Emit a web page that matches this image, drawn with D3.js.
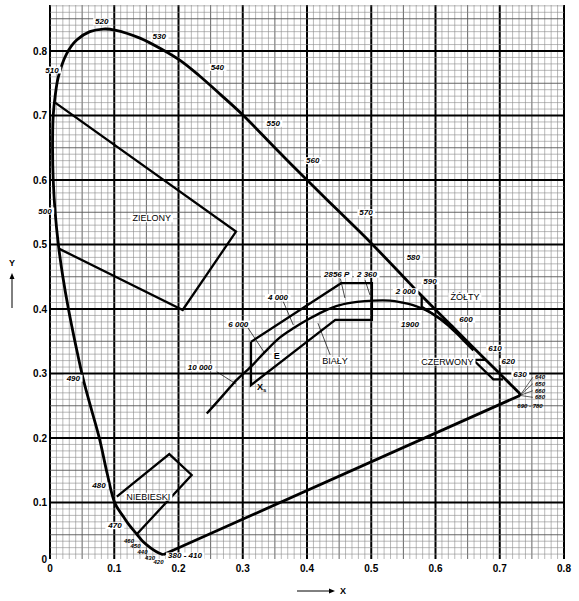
<!DOCTYPE html>
<html><head><meta charset="utf-8">
<script src="https://cdn.jsdelivr.net/npm/d3@7"></script>
<style>body{margin:0;background:#fff}svg{display:block}</style>
</head><body>
<svg id="c" width="579" height="601"></svg>
<script>
// ---------- data ----------
const xTickValues = [0,0.1,0.2,0.3,0.4,0.5,0.6,0.7,0.8];
const xTickLabels = ["0","0.1","0.2","0.3","0.4","0.5","0.6","0.7","0.8"];
const yTickValues = [0,0.1,0.2,0.3,0.4,0.5,0.6,0.7,0.8];
const yTickLabels = ["0","0.1","0.2","0.3","0.4","0.5","0.6","0.7","0.8"];

// spectral locus, from the violet end up and round to the red end
const locusX = [0.176,0.165,0.156,0.145,0.135,0.124,0.115,0.101,0.089,0.077,0.064,0.052,0.040,0.0285,0.020,0.013,0.008,0.005,0.004,0.005,0.008,0.013,0.026,0.0415,0.062,0.083,0.101,0.140,0.176,0.203,0.232,0.266,0.301,0.35,0.40,0.45,0.50,0.55,0.575,0.60,0.627,0.658,0.6915,0.708,0.719,0.726,0.730,0.7315];
const locusY = [0.019,0.024,0.030,0.039,0.051,0.064,0.077,0.099,0.145,0.199,0.246,0.290,0.344,0.401,0.450,0.500,0.550,0.600,0.650,0.700,0.730,0.760,0.796,0.817,0.830,0.834,0.8325,0.820,0.8015,0.785,0.762,0.732,0.700,0.650,0.600,0.551,0.502,0.450,0.424,0.399,0.372,0.341,0.308,0.292,0.281,0.274,0.270,0.266];

// Planckian locus
const planckX = [0.244,0.262,0.2802,0.2905,0.3128,0.335,0.358,0.38,0.40,0.425,0.451,0.478,0.503,0.529,0.548,0.565,0.585,0.602,0.618,0.633,0.646,0.659];
const planckY = [0.238,0.258,0.2786,0.290,0.3105,0.334,0.356,0.371,0.383,0.396,0.406,0.411,0.413,0.413,0.410,0.406,0.398,0.388,0.376,0.362,0.349,0.336];

// signal-colour regions
const greenX = [0.008,0.2895,0.2065,0.013];
const greenY = [0.720,0.520,0.3985,0.494];
const blueX = [0.104,0.1857,0.2205,0.135];
const blueY = [0.109,0.175,0.1426,0.0507];
const whiteX = [0.3128,0.453,0.501,0.501,0.444,0.3128,0.3128];
const whiteY = [0.349,0.440,0.440,0.383,0.383,0.282,0.349];
const yellowX = [0.5785,0.5785,0.627];
const yellowY = [0.4215,0.4036,0.373];
const redX = [0.678,0.659,0.690,0.705];
const redY = [0.321,0.321,0.291,0.291];

// wavelength labels (nm)
const wlText = ["520","530","540","550","560","570","580","590","600","610","620","630","510","500","490","480","470","380 - 410"];
const wlX = [0.0805,0.1701,0.2604,0.3475,0.4089,0.4918,0.5655,0.5914,0.6475,0.6926,0.7133,0.7315,0.0031,-0.0078,0.0363,0.0763,0.1012,0.2101];
const wlY = [0.8454,0.8222,0.7747,0.6879,0.6299,0.5493,0.4802,0.4434,0.3840,0.3391,0.3183,0.2992,0.7705,0.5519,0.2926,0.1256,0.0640,0.0171];
// densely packed wavelength labels
const wlSmallText = ["640","650","660","680","690 - 780","460","450","440","430","420"];
const wlSmallX = [0.7626,0.7626,0.7626,0.7626,0.7471,0.1230,0.1331,0.1440,0.1556,0.1689];
const wlSmallY = [0.2941,0.2842,0.2733,0.2631,0.2496,0.0403,0.0318,0.0233,0.0147,0.0078];

// colour-temperature labels (K)
const ctText = ["10 000","6 000","4 000","2856  P","2 360","2 000","1900"];
const ctX = [0.2335,0.2931,0.3549,0.4462,0.4934,0.5538,0.5603];
const ctY = [0.3096,0.3767,0.4178,0.4538,0.4538,0.4268,0.3767];

// thin leader / isotemperature lines
const leaderX1 = [0.2594,0.3082,0.3631,0.452,0.4903,0.417];
const leaderY1 = [0.3028,0.3705,0.4113,0.447,0.445,0.378];
const leaderX2 = [0.2895,0.334,0.3787,0.459,0.498,0.436];
const leaderY2 = [0.2837,0.332,0.3752,0.417,0.4217,0.329];

// region names
const regionText = ["ZIELONY","NIEBIESKI","BIAŁY","ŻÓŁTY","CZERWONY"];
const regionX = [0.1583,0.1530,0.4436,0.6459,0.6184];
const regionY = [0.5406,0.1090,0.3194,0.4191,0.3183];

// ---------- drawing ----------
const svg = d3.select("#c");
const x = d3.scaleLinear().domain([0,0.8]).range([50,564]);
const y = d3.scaleLinear().domain([0,0.8]).range([567,51]);
const gridBottom = y.invert(559), gridTop = y.invert(5);

const grid = svg.append("g");
for (let i = 0; i <= 80; i++) {
  const v = i/100;
  const major = i % 10 === 0, mid = i % 5 === 0;
  grid.append("line").attr("x1", x(v)).attr("x2", x(v)).attr("y1", y(gridBottom)).attr("y2", y(gridTop))
    .attr("stroke", major ? "#000" : mid ? "#555" : "#8a8a8a")
    .attr("stroke-width", major ? 2 : mid ? 0.9 : 0.6);
}
for (let i = 2; i <= 87; i++) {
  const v = i/100;
  const major = i % 10 === 0, mid = i % 5 === 0;
  grid.append("line").attr("y1", y(v)).attr("y2", y(v)).attr("x1", x(0)).attr("x2", x(0.8))
    .attr("stroke", major ? "#000" : mid ? "#555" : "#8a8a8a")
    .attr("stroke-width", major ? 2 : mid ? 0.9 : 0.6);
}

const zip = (xs, ys) => xs.map((v,i) => [v, ys[i]]);
const lineC = d3.line().x(d => x(d[0])).y(d => y(d[1])).curve(d3.curveCatmullRom.alpha(0.5));
const lineL = d3.line().x(d => x(d[0])).y(d => y(d[1]));

const marks = svg.append("g").attr("fill","none").attr("stroke","#000").attr("stroke-linejoin","miter");
marks.append("path").attr("d", lineC(zip(locusX, locusY))).attr("stroke-width", 2.8);
const n = locusX.length-1;
marks.append("path").attr("d", lineL([[locusX[0],locusY[0]],[locusX[n],locusY[n]]])).attr("stroke-width", 2.8);
marks.append("path").attr("d", lineC(zip(planckX, planckY))).attr("stroke-width", 2.4);
[[greenX,greenY],[blueX,blueY],[whiteX,whiteY],[yellowX,yellowY],[redX,redY]].forEach(([a,b]) => {
  marks.append("path").attr("d", lineL(zip(a,b))).attr("stroke-width", 2.3);
});
leaderX1.forEach((v,i) => {
  marks.append("line").attr("x1", x(v)).attr("y1", y(leaderY1[i])).attr("x2", x(leaderX2[i])).attr("y2", y(leaderY2[i]))
    .attr("stroke-width", 0.7);
});
wlSmallY.slice(0,4).forEach(v => {
  marks.append("line").attr("x1", x(0.7315)).attr("y1", y(0.266)).attr("x2", x(0.7515)).attr("y2", y(v)).attr("stroke-width",0.6);
});

const labels = svg.append("g");
function label(t, px, py, opts) {
  const g = labels.append("g");
  const txt = g.append("text").attr("x", px).attr("y", py).text(t)
    .attr("text-anchor", opts.anchor || "middle").attr("dominant-baseline","central")
    .attr("font-family","'Liberation Sans', Arial, sans-serif")
    .attr("font-size", opts.size).attr("font-weight", opts.weight || "normal")
    .attr("font-style", opts.style || "normal").attr("fill","#000");
  if (opts.bg) {
    const bb = txt.node().getBBox();
    g.insert("rect","text").attr("x", bb.x-2).attr("y", bb.y+1).attr("width", bb.width+4).attr("height", bb.height-2).attr("fill","#fff");
  }
  return txt;
}
wlText.forEach((t,i) => label(t, x(wlX[i]), y(wlY[i]), {size: 8, weight: "bold", style: "italic", bg: true}));
wlSmallText.forEach((t,i) => label(t, x(wlSmallX[i]), y(wlSmallY[i]), {size: 6, weight: "bold", style: "italic"}));
ctText.forEach((t,i) => label(t, x(ctX[i]), y(ctY[i]), {size: 8, weight: "bold", style: "italic", bg: true}));
regionText.forEach((t,i) => label(t, x(regionX[i]), y(regionY[i]), {size: 9, bg: true}));
label("E", x(0.3528), y(0.3271), {size: 9, weight: "bold", bg: true});
const xs = label("X", x(0.3295), y(0.2795), {size: 9, weight: "bold"});
xs.append("tspan").attr("font-size", 6).attr("dy", 3).text("s");

xTickValues.forEach((v,i) => label(xTickLabels[i], x(v), 568, {size: 10, weight: "bold"}));
yTickValues.forEach((v,i) => label(yTickLabels[i], 47, Math.min(y(v), 559), {size: 10, weight: "bold", anchor: "end"}));

const ax = svg.append("g").attr("stroke","#000").attr("fill","#000");
ax.append("line").attr("x1",12).attr("x2",12).attr("y1",308).attr("y2",277).attr("stroke-width",1);
ax.append("path").attr("d","M12,273 L9.5,279 L14.5,279 Z").attr("stroke","none");
label("Y", 12, 263, {size: 9, weight: "bold"});
ax.append("line").attr("x1",297).attr("x2",331).attr("y1",591).attr("y2",591).attr("stroke-width",1);
ax.append("path").attr("d","M335,591 L329,588.5 L329,593.5 Z").attr("stroke","none");
label("X", 343, 591, {size: 9, weight: "bold"});
</script>
</body></html>
